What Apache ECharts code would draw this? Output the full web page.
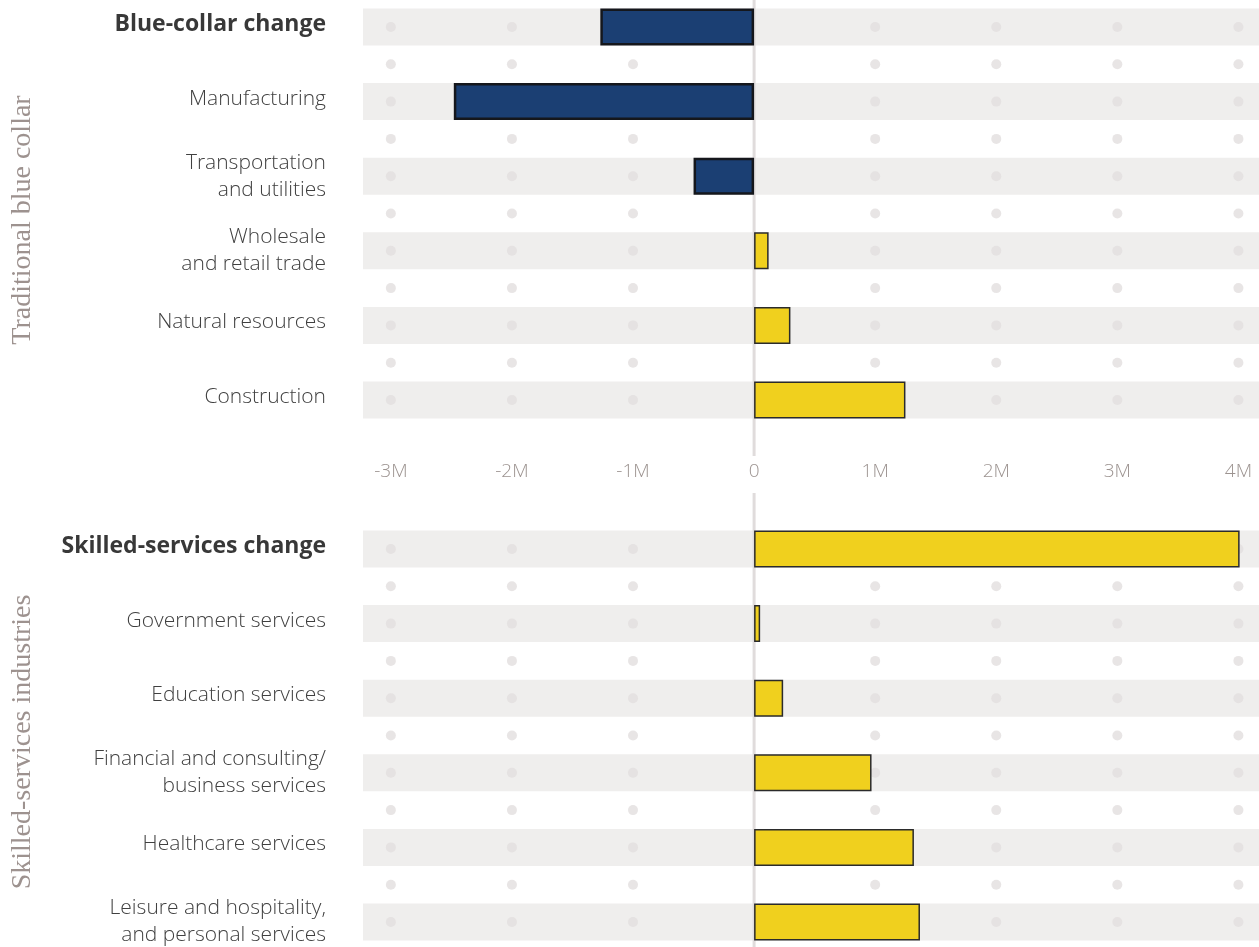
<!DOCTYPE html>
<html>
<head>
<meta charset="utf-8">
<script src="https://cdn.jsdelivr.net/npm/echarts@6/dist/echarts.min.js"></script>
<style>
  html, body { margin: 0; padding: 0; background: #fff; }
  #chartBox { width: 1259px; height: 947px; }
</style>
</head>
<body>
<div id="chartBox"></div>
<script>
  // 数据
  var topCats = ['Blue-collar change', 'Manufacturing', 'Transportation\nand utilities',
    'Wholesale\nand retail trade', 'Natural resources', 'Construction'];
  var topValues = [-1.27e6, -2.48e6, -0.50e6, 0.12e6, 0.30e6, 1.25e6];

  var bottomCats = ['Skilled-services change', 'Government services', 'Education services',
    'Financial and consulting/\nbusiness services', 'Healthcare services',
    'Leisure and hospitality,\nand personal services'];
  var bottomValues = [4.01e6, 0.05e6, 0.24e6, 0.97e6, 1.32e6, 1.37e6];

  var tickValues = [-3e6, -2e6, -1e6, 0, 1e6, 2e6, 3e6, 4e6];
  var groupNames = ['Traditional blue collar', 'Skilled-services industries'];

  var BLUE = '#1b3f73', YELLOW = '#f0d01e', BAND = '#efeeed', DOT = '#e2dfde';
  var FONT = '"Open Sans"';

  var chart = echarts.init(document.getElementById('chartBox'));

  function fmt(v) {
    if (v === 0) return '0';
    return (v / 1e6) + 'M';
  }

  function xAxis(gi, showLabels) {
    return {
      type: 'value', gridIndex: gi, min: -3.23e6, max: 4.17e6,
      axisLine: {show: false}, axisTick: {show: false}, splitLine: {show: false},
      axisLabel: {
        show: showLabels, customValues: tickValues, formatter: fmt,
        margin: 25, color: '#9c9390', fontSize: 19, fontWeight: 300, fontFamily: FONT
      }
    };
  }

  function catAxis(gi, cats) {
    return {
      type: 'category', gridIndex: gi, data: cats, inverse: true,
      axisLine: {show: false}, axisTick: {show: false}, splitLine: {show: false},
      axisLabel: {
        margin: 37, fontSize: 21, fontWeight: 300, color: '#404040', fontFamily: FONT, lineHeight: 27,
        formatter: function (v, i) {
          if (i === 0) return '{h|' + v + '}';
          if (v.indexOf('\n') >= 0) return v;   // 两行的标签不用上移
          return '{s|' + v + '}';
        },
        rich: {
          h: {fontSize: 23, fontWeight: 'bold', color: '#383838', fontFamily: FONT, padding: [0, 0, 6, 0]},
          s: {fontSize: 21, fontWeight: 300, color: '#404040', fontFamily: FONT, padding: [0, 0, 6, 0]}
        }
      }
    };
  }

  function rowAxis(gi) {
    // 隐藏的数值轴，用来放圆点和零线
    return {type: 'value', gridIndex: gi, min: -0.5, max: 5.5, inverse: true, show: false};
  }

  function dots(n) {
    var out = [];
    for (var i = 0; i < n; i++) {
      tickValues.forEach(function (t) {
        if (t === 0) return;
        out.push([t, i]);
        if (i < n - 1) out.push([t, i + 0.5]);
      });
    }
    return out;
  }

  function seriesFor(gi, cats, values, lineFrom, lineTo) {
    return [
      {
        type: 'bar', xAxisIndex: gi, yAxisIndex: gi * 2, silent: true, z: 1,
        data: cats.map(function () { return 0; }),
        barWidth: 37, barGap: '-100%',
        itemStyle: {borderWidth: 0, color: 'transparent'},
        showBackground: true, backgroundStyle: {color: BAND}
      },
      {
        type: 'scatter', xAxisIndex: gi, yAxisIndex: gi * 2 + 1, silent: true, z: 2,
        symbolSize: 10, itemStyle: {color: DOT}, data: dots(cats.length)
      },
      {
        type: 'line', xAxisIndex: gi, yAxisIndex: gi * 2 + 1, silent: true, z: 2,
        clip: false, symbol: 'none', lineStyle: {color: '#e0dcdc', width: 3},
        data: [[0, lineFrom], [0, lineTo]]
      },
      {
        type: 'bar', xAxisIndex: gi, yAxisIndex: gi * 2, z: 3,
        barWidth: 37, barGap: '-100%',
        data: values.map(function (v) {
          return {
            value: v,
            itemStyle: v < 0
              ? {color: BLUE, borderColor: '#15171c', borderWidth: 2.5}
              : {color: YELLOW, borderColor: '#2b2b2b', borderWidth: 1.5}
          };
        })
      }
    ];
  }

  var option = {
    animation: false,
    grid: [
      {left: 363, right: 0, top: -10.3, height: 447.6, outerBoundsMode: 'none'},
      {left: 363, right: 0, top: 511.7, height: 447.6, outerBoundsMode: 'none'}
    ],
    xAxis: [xAxis(0, true), xAxis(1, false)],
    yAxis: [catAxis(0, topCats), rowAxis(0), catAxis(1, bottomCats), rowAxis(1)],
    graphic: [
      {
        type: 'text', x: 23, y: 220, rotation: Math.PI / 2, silent: true,
        style: {text: groupNames[0], fill: '#9d928f', font: '28px "Liberation Serif"',
          textAlign: 'center', textVerticalAlign: 'middle', align: 'center', verticalAlign: 'middle'}
      },
      {
        type: 'text', x: 23, y: 742, rotation: Math.PI / 2, silent: true,
        style: {text: groupNames[1], fill: '#9d928f', font: '28px "Liberation Serif"',
          textAlign: 'center', textVerticalAlign: 'middle', align: 'center', verticalAlign: 'middle'}
      }
    ],
    series: seriesFor(0, topCats, topValues, -0.5, 5.75)
      .concat(seriesFor(1, bottomCats, bottomValues, -0.75, 5.8))
  };

  chart.setOption(option);
  window.onresize = chart.resize;
</script>
</body>
</html>
